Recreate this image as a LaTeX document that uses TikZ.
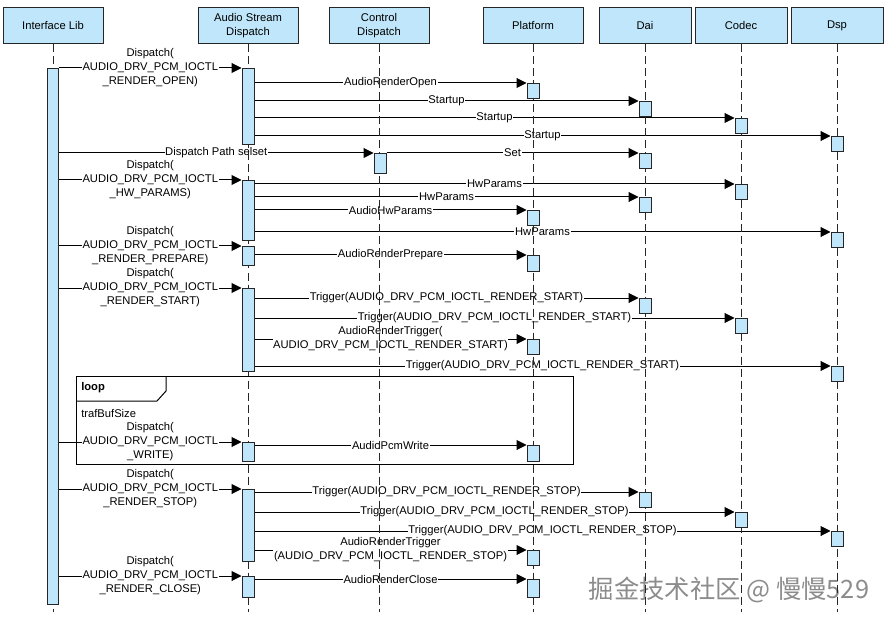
\documentclass[tikz,border=0pt]{standalone}
\usepackage{fontspec}
\setmainfont{Liberation Sans}
\newfontfamily\cjkfont{Noto Sans CJK SC}
\usetikzlibrary{arrows.meta}
\definecolor{lblue}{RGB}{191,230,250}
\pgfdeclarelayer{bg}
\pgfsetlayers{bg,main}
\begin{document}
\begin{tikzpicture}[x=0.75pt,y=-0.75pt,
  font=\fontsize{8.4}{10.5}\selectfont,
  head/.style={draw=black!85, fill=lblue, line width=0.75pt, minimum height=27pt, minimum width=#1, align=center, inner sep=0pt},
  head/.default=75pt,
  actbar/.style={draw=black!85, fill=lblue, line width=0.75pt, minimum width=9pt, minimum height={#1*0.75pt}, anchor=north, inner sep=0pt},
  actbar/.default=15,
  life/.style={draw=black!85, line width=0.75pt, dash pattern=on 6pt off 3pt},
  msg/.style={draw=black, line width=0.75pt, -{Triangle[length=7.5pt,width=7.5pt]}},
  lbl/.style={fill=white, inner sep=0.5pt, align=center},
  frame/.style={draw=black, line width=0.75pt},
]
\useasboundingbox (0,0) rectangle (887,623);
\coordinate (lend) at (0,612);

% headers
\node[head] (ilh) at (53,26) {Interface Lib};
\node[head] (asdh) at (248,26) {Audio Stream\\Dispatch};
\node[head] (cdh) at (379,26) {Control\\Dispatch};
\node[head] (pfh) at (533,26) {Platform};
\node[head=69pt] (daih) at (645,26) {Dai};
\node[head=69pt] (codech) at (741,26) {Codec};
\node[head=69pt] (dsph) at (837,26) {Dsp};

% lifelines
\foreach \h in {ilh,asdh,cdh,pfh,daih,codech,dsph}
  \draw[life] (\h.south) -- (\h.south |- lend);

% activation bars
\node[actbar=536, minimum width=8.25pt] (ilb) at (53,68) {};
\node[actbar=76] (asd1) at (248,68) {};
\node[actbar=60] (asd2) at (248,180) {};
\node[actbar=19] (asd3) at (248,246) {};
\node[actbar=83] (asd4) at (248,288) {};
\node[actbar=19] (asd5) at (248,442) {};
\node[actbar=72] (asd6) at (248,489) {};
\node[actbar=21] (asd7) at (248,576) {};
\node[actbar=20] (cd1) at (380,153) {};
\node[actbar] (pf1) at (533,83) {};
\node[actbar] (dai1) at (645,101) {};
\node[actbar] (codec1) at (741,118) {};
\node[actbar] (dsp1) at (837,136) {};
\node[actbar] (dai2) at (645,153) {};
\node[actbar] (codec2) at (741,184) {};
\node[actbar] (dai3) at (645,197) {};
\node[actbar] (pf2) at (533,210) {};
\node[actbar] (dsp2) at (837,232) {};
\node[actbar=16] (pf3) at (533,255) {};
\node[actbar] (dai4) at (645,298) {};
\node[actbar] (codec3) at (741,318) {};
\node[actbar] (pf4) at (533,339) {};
\node[actbar] (dsp3) at (837,366) {};
\node[actbar=16] (pf5) at (533,445) {};
\node[actbar] (dai5) at (645,492) {};
\node[actbar] (codec4) at (741,512) {};
\node[actbar] (dsp4) at (837,531) {};
\node[actbar] (pf6) at (533,550) {};
\node[actbar=18] (pf7) at (533,579) {};

% loop frame
\draw[frame] (76,376) rectangle (573,464);
\draw[frame] (76,401) -- (157,401) -- (166,391) -- (166,376);
\node[anchor=west, inner sep=0pt, font=\fontsize{8.4}{10.5}\selectfont\bfseries] (looplbl) at (81,388) {loop};
\node[anchor=west, inner sep=0pt] (loopcond) at (81,413) {trafBufSize};

\begin{pgfonlayer}{bg}
% OPEN
\draw[msg] (asd1.north west -| ilb.east) -- node[lbl]{Dispatch(\\AUDIO\_DRV\_PCM\_IOCTL\\\_RENDER\_OPEN)} (asd1.north west);
\draw[msg] (pf1.north west -| asd1.east) -- node[lbl]{AudioRenderOpen} (pf1.north west);
\draw[msg] (dai1.north west -| asd1.east) -- node[lbl]{Startup} (dai1.north west);
\draw[msg] (codec1.north west -| asd1.east) -- node[lbl]{Startup} (codec1.north west);
\draw[msg] (dsp1.north west -| asd1.east) -- node[lbl]{Startup} (dsp1.north west);
% path select
\draw[msg] (cd1.north west -| ilb.east) -- node[lbl]{Dispatch Path selset} (cd1.north west);
\draw[msg] (dai2.north west -| cd1.east) -- node[lbl]{Set} (dai2.north west);
% HW_PARAMS
\draw[msg] (asd2.north west -| ilb.east) -- node[lbl]{Dispatch(\\AUDIO\_DRV\_PCM\_IOCTL\\\_HW\_PARAMS)} (asd2.north west);
\draw[msg] (codec2.north west -| asd2.east) -- node[lbl]{HwParams} (codec2.north west);
\draw[msg] (dai3.north west -| asd2.east) -- node[lbl]{HwParams} (dai3.north west);
\draw[msg] (pf2.north west -| asd2.east) -- node[lbl]{AudioHwParams} (pf2.north west);
\draw[msg] (dsp2.north west -| asd2.east) -- node[lbl]{HwParams} (dsp2.north west);
% PREPARE
\draw[msg] (asd3.north west -| ilb.east) -- node[lbl]{Dispatch(\\AUDIO\_DRV\_PCM\_IOCTL\\\_RENDER\_PREPARE)} (asd3.north west);
\draw[msg] (pf3.north west -| asd3.east) -- node[lbl]{AudioRenderPrepare} (pf3.north west);
% START
\draw[msg] (asd4.north west -| ilb.east) -- node[lbl]{Dispatch(\\AUDIO\_DRV\_PCM\_IOCTL\\\_RENDER\_START)} (asd4.north west);
\draw[msg] (dai4.north west -| asd4.east) -- node[lbl]{Trigger(AUDIO\_DRV\_PCM\_IOCTL\_RENDER\_START)} (dai4.north west);
\draw[msg] (codec3.north west -| asd4.east) -- node[lbl]{Trigger(AUDIO\_DRV\_PCM\_IOCTL\_RENDER\_START)} (codec3.north west);
\draw[msg] (pf4.north west -| asd4.east) -- node[lbl]{AudioRenderTrigger(\\AUDIO\_DRV\_PCM\_IOCTL\_RENDER\_START)} (pf4.north west);
\draw[msg] (dsp3.north west -| asd4.east) -- node[lbl]{Trigger(AUDIO\_DRV\_PCM\_IOCTL\_RENDER\_START)} (dsp3.north west);
% WRITE
\draw[msg] (asd5.north west -| ilb.east) -- node[lbl]{Dispatch(\\AUDIO\_DRV\_PCM\_IOCTL\\\_WRITE)} (asd5.north west);
\draw[msg] (pf5.north west -| asd5.east) -- node[lbl]{AudioPcmWrite} (pf5.north west);
% STOP
\draw[msg] (asd6.north west -| ilb.east) -- node[lbl]{Dispatch(\\AUDIO\_DRV\_PCM\_IOCTL\\\_RENDER\_STOP)} (asd6.north west);
\draw[msg] (dai5.north west -| asd6.east) -- node[lbl]{Trigger(AUDIO\_DRV\_PCM\_IOCTL\_RENDER\_STOP)} (dai5.north west);
\draw[msg] (codec4.north west -| asd6.east) -- node[lbl]{Trigger(AUDIO\_DRV\_PCM\_IOCTL\_RENDER\_STOP)} (codec4.north west);
\draw[msg] (dsp4.north west -| asd6.east) -- node[lbl]{Trigger(AUDIO\_DRV\_PCM\_IOCTL\_RENDER\_STOP)} (dsp4.north west);
\draw[msg] (pf6.north west -| asd6.east) -- node[lbl]{AudioRenderTrigger\\(AUDIO\_DRV\_PCM\_IOCTL\_RENDER\_STOP)} (pf6.north west);
% CLOSE
\draw[msg] (asd7.north west -| ilb.east) -- node[lbl]{Dispatch(\\AUDIO\_DRV\_PCM\_IOCTL\\\_RENDER\_CLOSE)} (asd7.north west);
\draw[msg] (pf7.north west -| asd7.east) -- node[lbl]{AudioRenderClose} (pf7.north west);
% watermark
\node[text=black!45, inner sep=0pt, font=\cjkfont\fontsize{19}{19}\selectfont] (wm) at (729,590) {掘金技术社区 @ 慢慢529};
\end{pgfonlayer}
\end{tikzpicture}
\end{document}
